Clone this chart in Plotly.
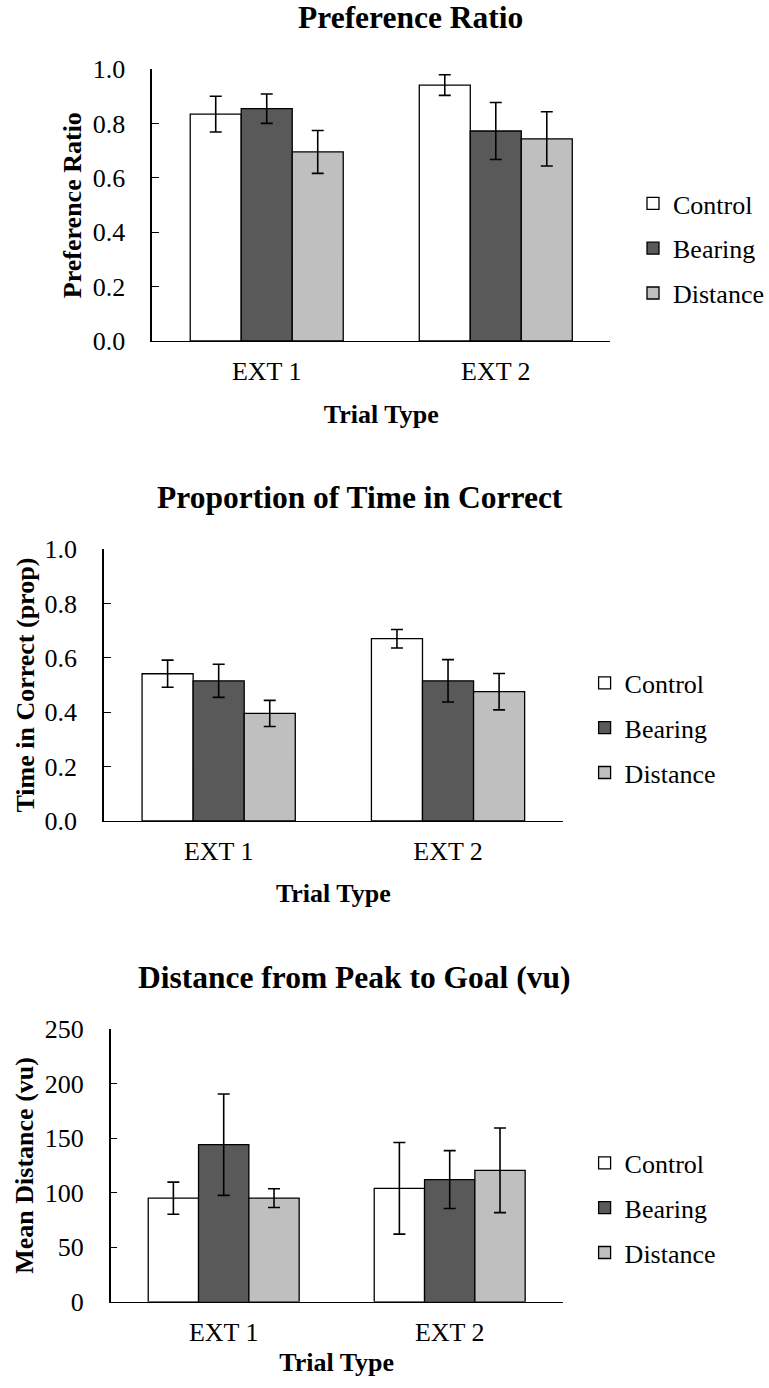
import plotly.graph_objects as go

W, H = 769, 1388

categories = ["EXT 1", "EXT 2"]
groups = ["Control", "Bearing", "Distance"]
group_colors = ["#FFFFFF", "#595959", "#BFBFBF"]

# Chart 1: Preference Ratio
pref_control = [0.835, 0.942]
pref_control_err = [0.066, 0.038]
pref_bearing = [0.855, 0.773]
pref_bearing_err = [0.054, 0.105]
pref_distance = [0.696, 0.744]
pref_distance_err = [0.079, 0.100]

# Chart 2: Proportion of Time in Correct
time_control = [0.542, 0.671]
time_control_err = [0.050, 0.034]
time_bearing = [0.516, 0.516]
time_bearing_err = [0.061, 0.078]
time_distance = [0.396, 0.476]
time_distance_err = [0.048, 0.067]

# Chart 3: Distance from Peak to Goal (vu)
dist_control = [95, 104]
dist_control_err = [14.7, 42.0]
dist_bearing = [144, 112]
dist_bearing_err = [46.5, 26.5]
dist_distance = [95, 120.5]
dist_distance_err = [8.6, 38.8]

chart_titles = ["Preference Ratio", "Proportion of Time in Correct",
                "Distance from Peak to Goal (vu)"]
y_titles = ["Preference Ratio", "Time in Correct (prop)", "Mean Distance (vu)"]
x_title = "Trial Type"

FONT = "Liberation Serif, Times New Roman, serif"

def px_x(p):
    return p / W

def px_y(p):
    return 1 - p / H

charts = [
    dict(vals=[pref_control, pref_bearing, pref_distance],
         errs=[pref_control_err, pref_bearing_err, pref_distance_err],
         yrange=[0, 1], dtick=0.2, fmt=".1f",
         xdom=[152.2, 610.3], ydom=[341.0, 69.3],
         title_xy=(410, 17.8), legend_xy=(633.0, 248.5),
         ytitle_standoff=4, xtitle_standoff=19),
    dict(vals=[time_control, time_bearing, time_distance],
         errs=[time_control_err, time_bearing_err, time_distance_err],
         yrange=[0, 1], dtick=0.2, fmt=".1f",
         xdom=[104.0, 562.7], ydom=[821.0, 549.3],
         title_xy=(360, 497.0), legend_xy=(584.6, 728.0),
         ytitle_standoff=2, xtitle_standoff=18),
    dict(vals=[dist_control, dist_bearing, dist_distance],
         errs=[dist_control_err, dist_bearing_err, dist_distance_err],
         yrange=[0, 250], dtick=50, fmt="d",
         xdom=[110.7, 562.7], ydom=[1301.8, 1029.0],
         title_xy=(354, 977.0), legend_xy=(584.6, 1208.0),
         ytitle_standoff=4, xtitle_standoff=6),
]

fig = go.Figure()
layout = dict(
    width=W, height=H,
    margin=dict(l=0, r=0, t=0, b=0, pad=0, autoexpand=False),
    paper_bgcolor="white", plot_bgcolor="white",
    font=dict(family=FONT, size=26, color="black"),
    barmode="group", bargap=0.332, bargroupgap=0,
    showlegend=True,
    annotations=[],
)

for i, ch in enumerate(charts):
    n = "" if i == 0 else str(i + 1)
    xa, ya = "x" + n, "y" + n
    lg = "legend" + n
    for g, name in enumerate(groups):
        fig.add_trace(go.Bar(
            x=categories, y=ch["vals"][g], name=name,
            xaxis=xa, yaxis=ya, legend=lg,
            legendgroup=f"c{i}_{g}",
            marker=dict(color=group_colors[g], line=dict(color="black", width=1.3)),
            error_y=dict(type="data", array=ch["errs"][g], visible=True,
                         color="black", thickness=1.6, width=6),
        ))
    layout["xaxis" + n] = dict(
        domain=[px_x(ch["xdom"][0]), px_x(ch["xdom"][1])],
        anchor=ya, showline=True, linecolor="black", linewidth=1,
        ticks="", showgrid=False, zeroline=False,
        tickfont=dict(family=FONT, size=26, color="black"),
        ticklabelstandoff=7,
        title=dict(text="<b>" + x_title + "</b>",
                   font=dict(family=FONT, size=26, color="black"),
                   standoff=ch["xtitle_standoff"]),
    )
    layout["yaxis" + n] = dict(
        domain=[px_y(ch["ydom"][0]), px_y(ch["ydom"][1])],
        anchor=xa, range=ch["yrange"], dtick=ch["dtick"], tickformat=ch["fmt"],
        showline=True, linecolor="black", linewidth=1.5,
        ticks="inside", ticklen=7, tickwidth=1.3, tickcolor="black",
        showgrid=False, zeroline=False,
        tickfont=dict(family=FONT, size=26, color="black"),
        ticklabelstandoff=20,
        title=dict(text="<b>" + y_titles[i] + "</b>",
                   font=dict(family=FONT, size=26, color="black"),
                   standoff=ch["ytitle_standoff"]),
    )
    layout[lg] = dict(
        x=px_x(ch["legend_xy"][0]), y=px_y(ch["legend_xy"][1]),
        xanchor="left", yanchor="middle",
        font=dict(family=FONT, size=26, color="black"),
        bgcolor="rgba(0,0,0,0)", borderwidth=0,
        traceorder="grouped", tracegroupgap=8,
    )
    layout["annotations"].append(dict(
        text="<b>" + chart_titles[i] + "</b>", showarrow=False,
        xref="paper", yref="paper",
        x=px_x(ch["title_xy"][0]), y=px_y(ch["title_xy"][1]),
        xanchor="center", yanchor="middle",
        font=dict(family=FONT, size=31.5, color="black"),
    ))

fig.update_layout(**layout)
fig.write_html("out.html")
